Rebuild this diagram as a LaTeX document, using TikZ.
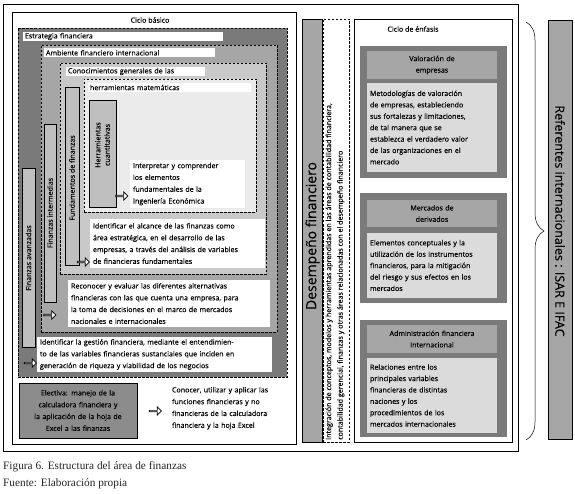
\documentclass[tikz,border=0pt]{standalone}
\usepackage{fontspec}
\setmainfont{Open Sans}[FakeBold=0.35]
\newfontfamily\capfont{Liberation Serif}
\usetikzlibrary{shapes.arrows,decorations.pathreplacing}
\definecolor{gA}{gray}{0.48}
\definecolor{gB}{gray}{0.65}
\definecolor{gC}{gray}{0.79}
\definecolor{gD}{gray}{0.92}
\definecolor{gBar}{gray}{0.75}
\definecolor{gE}{gray}{0.55}
\definecolor{gH}{gray}{0.86}
\newcommand\dfont{\fontsize{7.1}{11.8}\selectfont}
\newcommand\cfont{\fontsize{7.1}{11.4}\selectfont}
\newcommand\rbox[6]{\node[#2,minimum width={(#5-#3)*1pt},minimum height={(#6-#4)*1pt}] (#1) at (#3,#4) {};}
\tikzset{
 base/.style={inner sep=0pt, outer sep=0pt, anchor=north west},
 dbox/.style={base, draw, dash pattern=on 2.5pt off 1.5pt, line width=0.6pt},
 sbox/.style={base, draw, line width=0.6pt},
 nbox/.style={base},
 wbox/.style={base, fill=white, font=\dfont, align=left, inner xsep=3pt},
 band/.style={base, fill=white, font=\dfont, align=left, inner xsep=2pt, minimum height=9pt},
 vtext/.style={rotate=90, font=\dfont, align=center, inner sep=0pt},
 harrow/.style={single arrow, draw, fill=white, line width=0.7pt, minimum height=12pt, minimum width=8pt, single arrow head extend=1.8pt, inner sep=0pt},
 ctext/.style={base, font=\cfont, align=left, text width=124pt, inner xsep=3pt},
 ttext/.style={base, font=\cfont, align=center, text width=124pt, inner xsep=3pt},
}
\begin{document}
\begin{tikzpicture}[x=1pt,y=-1pt]
\useasboundingbox (0,0) rectangle (575,494);
\fill[white] (0,0) rectangle (575,494);
% outer frames
\rbox{outer}{sbox}{3}{4}{518}{451}
\rbox{cicloB}{sbox}{12}{12}{296}{444}
\node[font=\dfont] (cicloBt) at (150,20) {Ciclo básico};
% nested dashed boxes
\rbox{estr}{dbox,fill=gA}{18}{28}{287}{377}
\node[band, minimum width=200pt, text width=196pt] (estrL) at (23,32) {Estrategia financiera};
\rbox{amb}{dbox,fill=gB}{41}{45}{277}{332}
\node[band, minimum width=171pt, text width=167pt, minimum height=8.5pt] (ambL) at (44,48.5) {Ambiente financiero internacional};
\rbox{con}{dbox,fill=gC}{60}{63}{266}{274}
\node[band, minimum width=139pt, text width=135pt] (conL) at (66,67) {Conocimientos generales de las};
\rbox{her}{dbox,fill=gD}{84}{79}{256}{212}
\node[band, minimum width=163pt, text width=159pt] (herL) at (88,83) {herramientas matemáticas};
% vertical bars
\rbox{barHC}{sbox,fill=gBar}{89}{100}{116}{207}
\node[vtext] (barHCt) at (102.5,145) {Herramientas\\[-2.5pt]cuantitativas};
\rbox{barF}{sbox,fill=gBar}{65}{87}{79}{265}
\node[vtext] (barFt) at (72,178) {Fundamentos de finanzas};
\rbox{barI}{sbox,fill=gBar}{44}{124}{56}{302}
\node[vtext] (barIt) at (50,213) {Finanzas intermedias};
\rbox{barA}{sbox,fill=gBar}{22}{168}{35}{347}
\node[vtext] (barAt) at (28.5,258) {Finanzas avanzadas};
% white text boxes
\node[wbox, minimum width=115pt, minimum height=48pt, text width=109pt] (interp) at (130,160)
 {Interpretar y comprender\\los elementos\\fundamentales de la\\Ingeniería Económica};
\node[wbox, minimum width=175pt, minimum height=49pt, text width=169pt] (ident1) at (90,219)
 {Identificar el alcance de las finanzas como\\área estratégica, en el desarrollo de las\\empresas, a través del análisis de variables\\de financieras fundamentales};
\node[wbox, minimum width=202pt, minimum height=47pt, text width=196pt] (recon) at (68,280)
 {Reconocer y evaluar las diferentes alternativas\\financieras con las que cuenta una empresa, para\\la toma de decisiones en el marco de mercados\\nacionales e internacionales};
\node[wbox, minimum width=235pt, minimum height=35pt, text width=229pt] (ident2) at (37,337)
 {Identificar la gestión financiera, mediante el entendimien-\\to de las variables financieras sustanciales que inciden en\\generación de riqueza y viabilidad de los negocios};
% arrows
\node[harrow] (ar1) at (121.5,196) {};
\node[harrow] (ar2) at (83,262) {};
\node[harrow] (ar3) at (49.5,315) {};
\node[harrow] (ar4) at (30,363) {};
\node[harrow] (ar5) at (155,411) {};
% electiva
\node[sbox, fill=gE, minimum width=118pt, minimum height=55pt, text width=114pt, align=center, font=\dfont] (elect) at (19,383)
 {Electiva: manejo de la\\calculadora financiera y\\la aplicación de la hoja de\\Excel a las finanzas};
\node[base, font=\dfont, align=left, text width=130pt] (conoc) at (172,387)
 {Conocer, utilizar y aplicar las\\funciones financieras y no\\financieras de la calculadora\\financiera y la hoja Excel};
% desempeno
\rbox{des}{sbox,fill=gB}{302}{19}{322}{442}
\node[rotate=90, font=\fontsize{14}{16}\selectfont, inner sep=0pt] (desT) at (312.5,236) {Desempeño financiero};
\rbox{integ}{dbox,fill=white}{323}{19}{349}{442}
\node[rotate=90, anchor=north west, font=\fontsize{7.1}{11.5}\selectfont, align=left, inner sep=0pt] (integT) at (325.5,440)
 {Integración de conceptos, modelos y herramientas aprendidas en las áreas de contabilidad financiera,\\contabilidad gerencial, finanzas y otras áreas relacionadas con el desempeño financiero};
% ciclo de enfasis
\rbox{cicloE}{sbox,fill=white}{354}{19}{512}{442}
\node[font=\dfont] (cicloEt) at (413,29) {Ciclo de énfasis};
\rbox{valO}{nbox,fill=gA}{360}{46}{507}{178}
\node[ttext, fill=gB, minimum width=130pt, minimum height=28pt] (valT) at (367,51) {Valoración de\\empresas};
\node[ctext, fill=gH, minimum width=130pt, minimum height=89pt] (valC) at (367,83)
 {Metodologías de valoración\\de empresas, estableciendo\\sus fortalezas y limitaciones,\\de tal manera que se\\establezca el verdadero valor\\de las organizaciones en el\\mercado};
\rbox{merO}{nbox,fill=gA}{360}{193}{507}{303}
\node[ttext, fill=gB, minimum width=130pt, minimum height=27pt] (merT) at (367,200) {Mercados de\\derivados};
\node[ctext, fill=gH, minimum width=130pt, minimum height=65pt] (merC) at (367,233)
 {Elementos conceptuales y la\\utilización de los instrumentos\\financieros, para la mitigación\\del riesgo y sus efectos en los\\mercados};
\rbox{admO}{nbox,fill=gA}{360}{320}{507}{437}
\node[ttext, fill=gB, minimum width=130pt, minimum height=28pt] (admT) at (367,325) {Administración financiera\\Internacional};
\node[ctext, fill=gH, minimum width=130pt, minimum height=75pt] (admC) at (367,358)
 {Relaciones entre los\\principales variables\\financieras de distintas\\naciones y los\\procedimientos de los\\mercados internacionales};
% brace and referentes
\coordinate (bT) at (526,22);
\coordinate (bB) at (526,440);
\draw[decorate, decoration={brace, amplitude=18pt}, line width=0.5pt] (bT) -- (bB);
\rbox{ref}{sbox,fill=gB}{548}{20}{572}{439}
\node[rotate=-90, font=\fontsize{12.5}{15}\selectfont, inner sep=0pt] (refT) at (560,221) {Referentes internacionales : ISAR E IFAC};
% caption
\node[anchor=west, font=\capfont\fontsize{11.3}{13}\selectfont, inner sep=0pt, text=black!85] (cap1) at (3,467) {Figura 6. Estructura del área de finanzas};
\node[anchor=west, font=\capfont\fontsize{11.3}{13}\selectfont, inner sep=0pt, text=black!85] (cap2) at (3,484) {Fuente: Elaboración propia};
\end{tikzpicture}
\end{document}
